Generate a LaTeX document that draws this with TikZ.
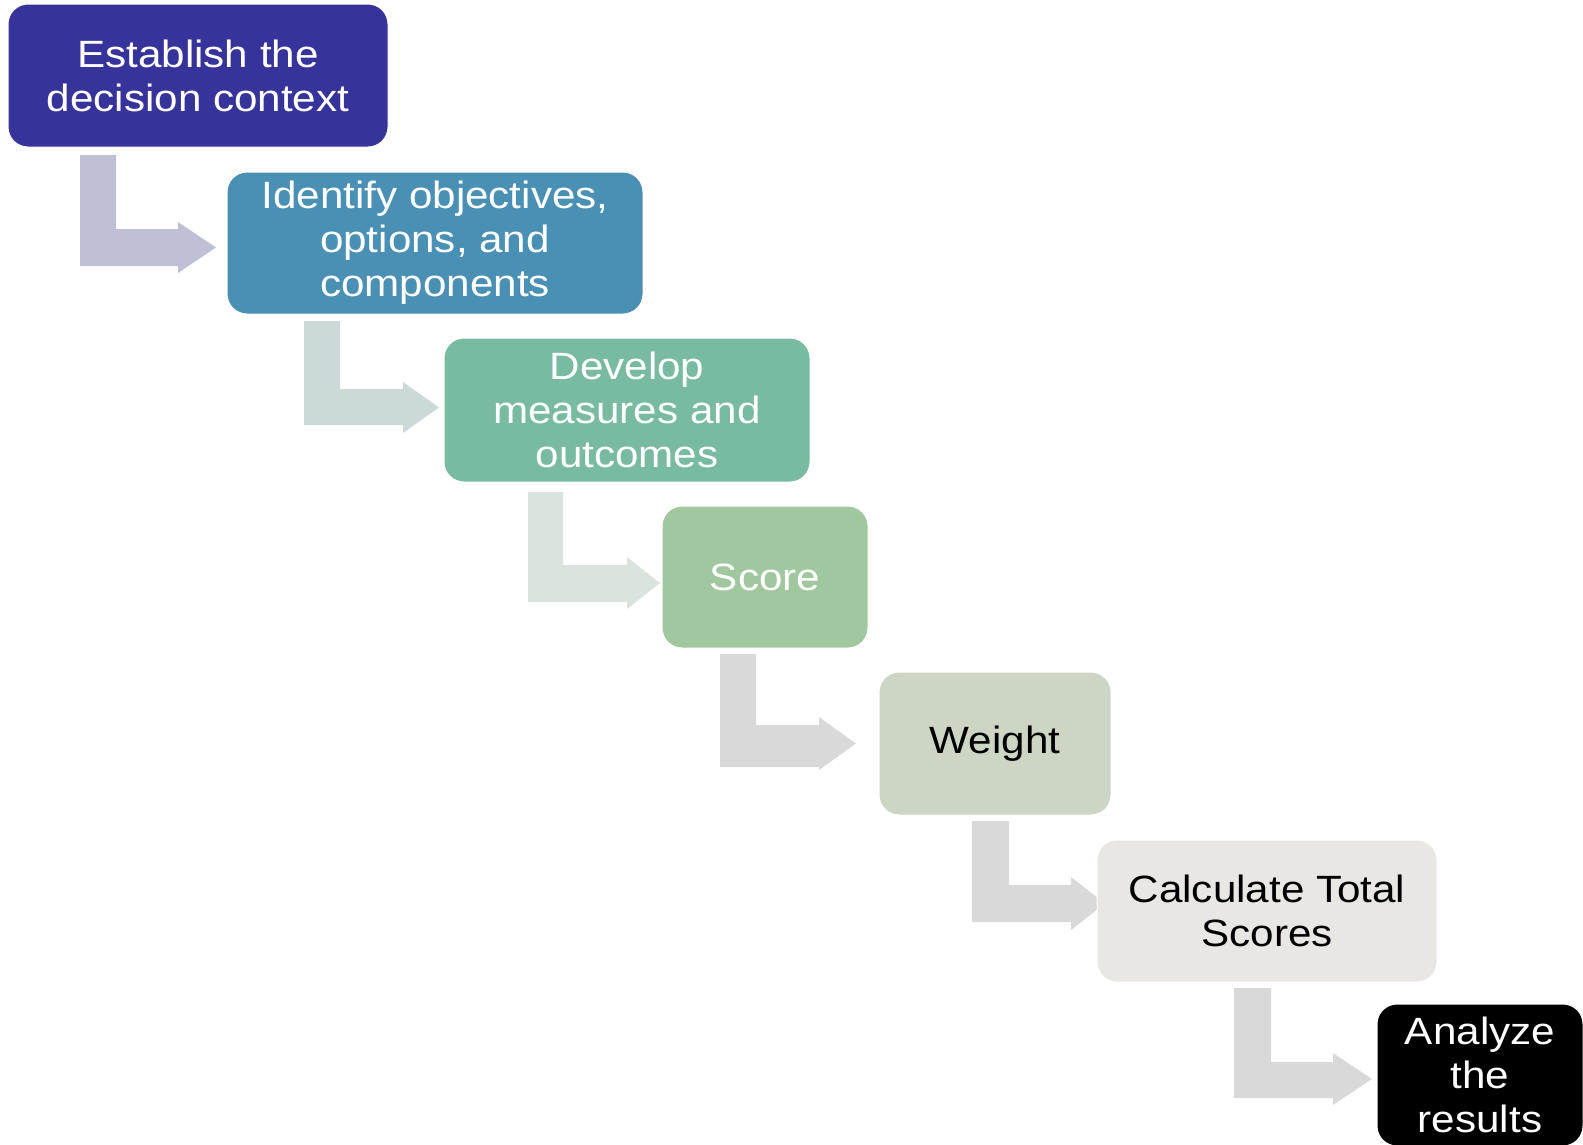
\documentclass[tikz,border=0pt]{standalone}
\usepackage{fontspec}
\setmainfont{Liberation Sans}[FakeStretch=1.11]
\definecolor{c1}{HTML}{36349A}
\definecolor{c2}{HTML}{4A90B4}
\definecolor{c3}{HTML}{78BBA1}
\definecolor{c4}{HTML}{A0C79E}
\definecolor{c5}{HTML}{CDD6C4}
\definecolor{c6}{HTML}{E8E7E3}
\definecolor{c7}{HTML}{000000}
\definecolor{a1}{HTML}{BFC0D6}
\definecolor{a2}{HTML}{CCD9D9}
\definecolor{a3}{HTML}{DAE3DE}
\definecolor{a4}{HTML}{D9D9D9}
\tikzset{
  stepbox/.style={rectangle, rounded corners=20pt, draw=white, line width=1pt,
    align=center, inner sep=0pt, font=\fontsize{38}{44}\selectfont},
}
\begin{document}
\begin{tikzpicture}[x=1pt,y=-1pt]
\useasboundingbox (0,0) rectangle (1583,1144);
% bent block arrows
\fill[a1] (80,155) -- (116,155) -- (116,229) -- (178,229) -- (178,222) -- (216,247.5) -- (178,273) -- (178,266) -- (80,266) -- cycle;
\fill[a2] (304,321) -- (340,321) -- (340,389) -- (403,389) -- (403,382) -- (439,407.5) -- (403,433) -- (403,425) -- (304,425) -- cycle;
\fill[a3] (528,492) -- (563,492) -- (563,565) -- (627,565) -- (627,557) -- (660,583) -- (627,609) -- (627,602) -- (528,602) -- cycle;
\fill[a4] (720,654) -- (756,654) -- (756,725) -- (819,725) -- (819,717) -- (856,743.5) -- (819,770) -- (819,767) -- (720,767) -- cycle;
\fill[a4] (972,821) -- (1009,821) -- (1009,885) -- (1071,885) -- (1071,877) -- (1105,903.5) -- (1071,930) -- (1071,922) -- (972,922) -- cycle;
\fill[a4] (1234,988) -- (1271,988) -- (1271,1062) -- (1333,1062) -- (1333,1053) -- (1372,1079) -- (1333,1105) -- (1333,1098) -- (1234,1098) -- cycle;
% boxes
\node[stepbox, fill=c1, text=white, minimum width=380pt, minimum height=143pt] (b1) at (198,75.5) {Establish the\\decision context};
\node[stepbox, fill=c2, text=white, minimum width=416pt, minimum height=142pt] (b2) at (435,243) {Identify objectives,\\options, and\\components};
\node[stepbox, fill=c3, text=white, minimum width=366pt, minimum height=144pt] (b3) at (627,410) {Develop\\measures and\\outcomes};
\node[stepbox, fill=c4, text=white, minimum width=206pt, minimum height=142pt] (b4) at (765,577) {Score};
\node[stepbox, fill=c5, text=black, minimum width=232pt, minimum height=143pt] (b5) at (995,743.5) {Weight};
\node[stepbox, fill=c6, text=black, minimum width=340pt, minimum height=142pt] (b6) at (1267,911) {Calculate Total\\Scores};
\node[stepbox, fill=c7, text=white, minimum width=206pt, minimum height=142pt] (b7) at (1480,1075) {Analyze\\the\\results};
\end{tikzpicture}
\end{document}
